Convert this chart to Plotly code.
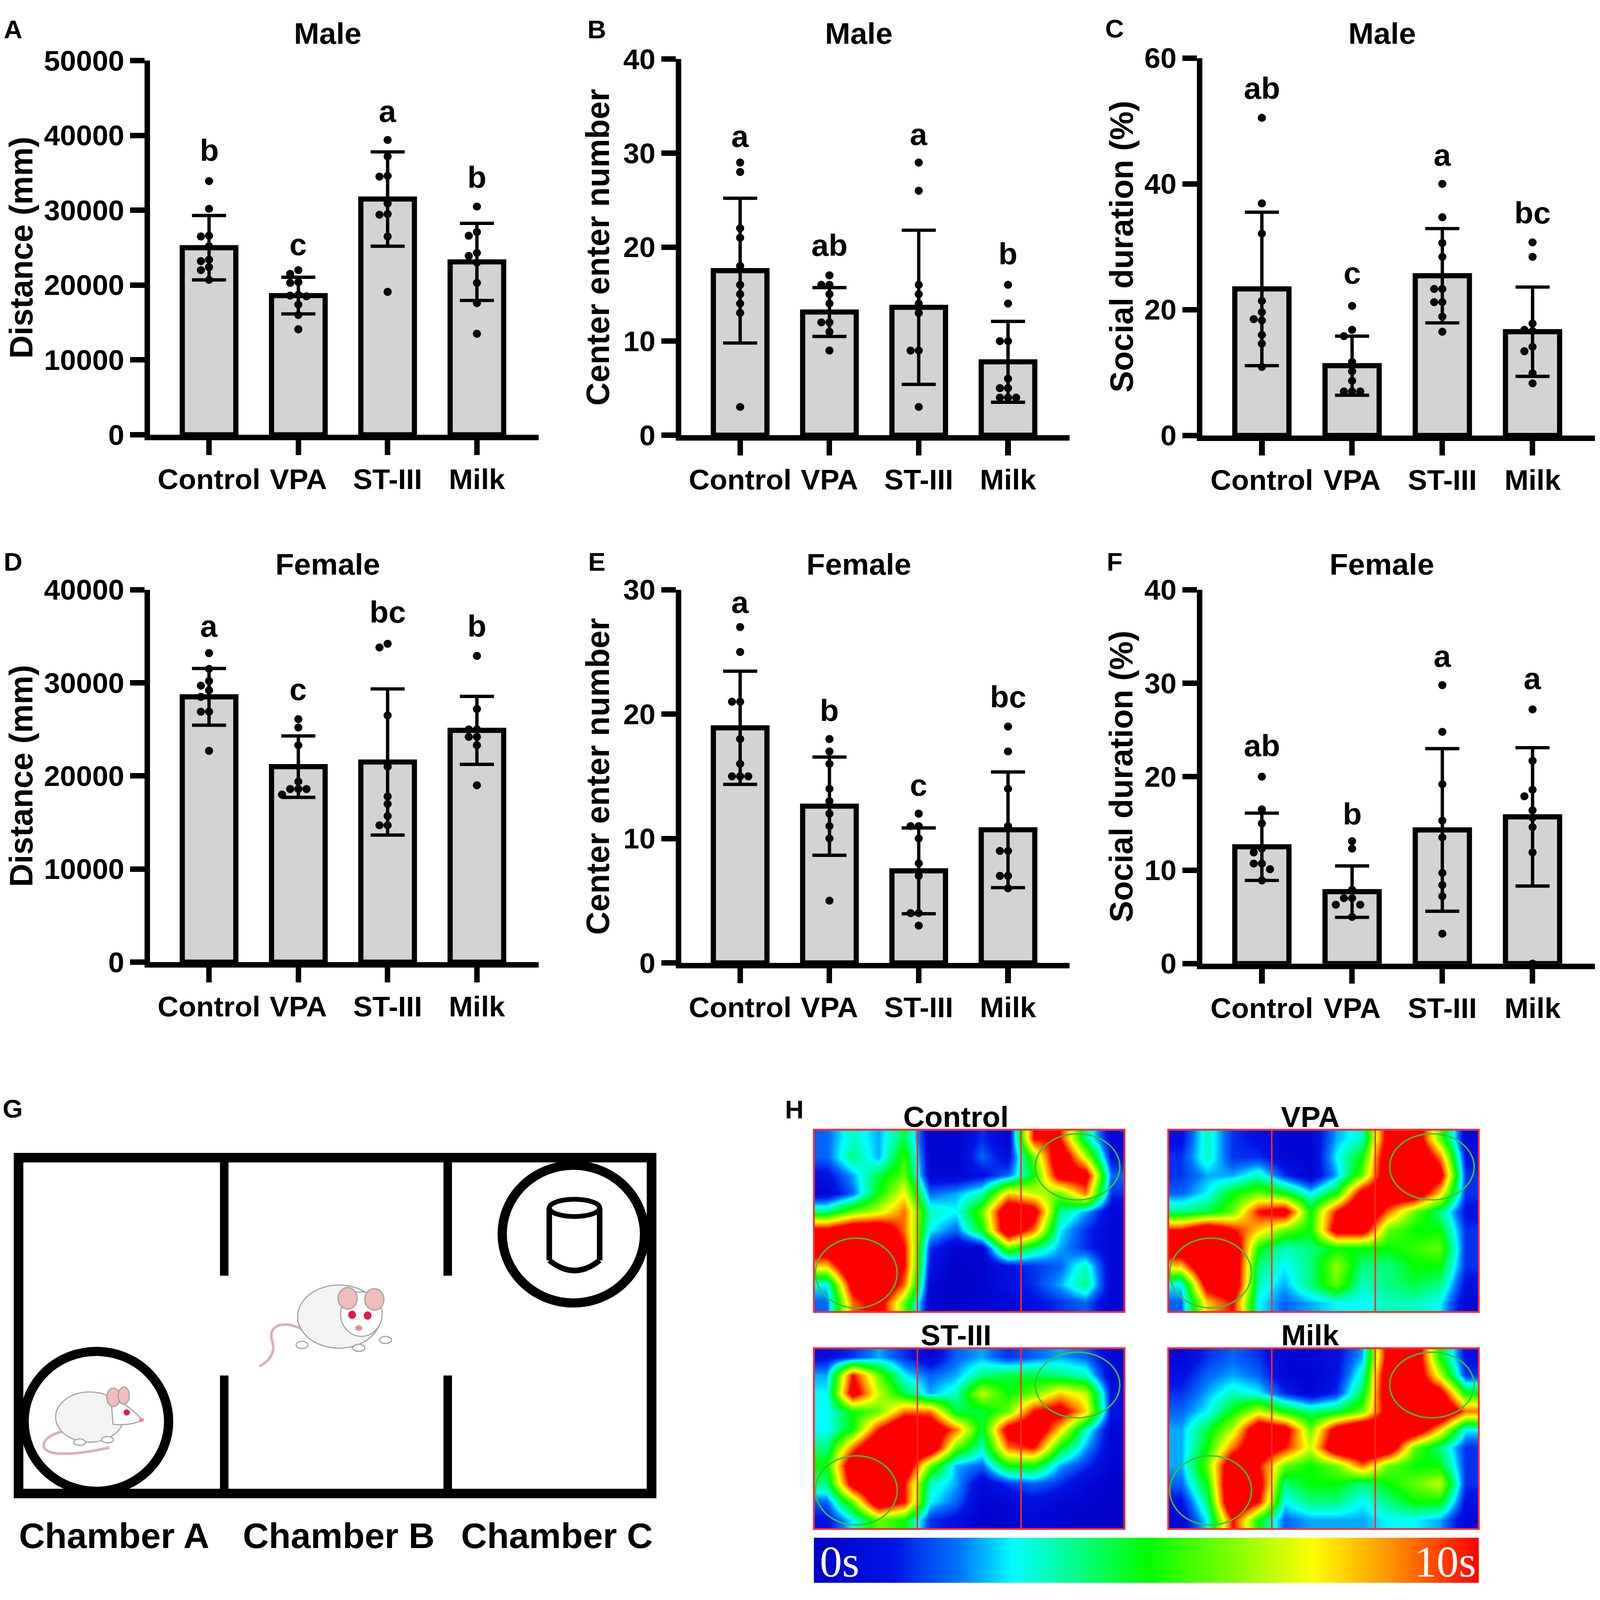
import plotly.graph_objects as go

W, H = 4317, 4370

# ---------------- data ----------------
groups = ["Control", "VPA", "ST-III", "Milk"]

# A  Male - distance (mm)
dist_m_mean = [25000, 18600, 31500, 23100]
dist_m_sd = [4300, 2450, 6300, 5150]
dist_m_dots = [
    [33900, 30200, 26600, 26500, 25200, 23400, 23200, 22400, 22000, 20700],
    [22000, 21500, 20400, 20300, 18700, 18600, 18500, 17400, 16000, 14100],
    [39400, 37200, 34600, 34500, 30900, 29500, 29400, 26500, 19100],
    [30500, 27100, 26600, 24300, 23900, 23000, 20300, 17600, 13500],
]
dist_m_letters = ["b", "c", "a", "b"]
dist_m_letter_y = [38000, 25400, 43200, 34400]

# B  Male - center enter number
enter_m_mean = [17.5, 13.1, 13.6, 7.8]
enter_m_sd = [7.7, 2.6, 8.2, 4.3]
enter_m_dots = [
    [29, 28, 22, 21, 18, 16, 15, 14, 13, 3],
    [17, 16, 16, 15, 14, 12, 12, 11, 9],
    [29, 26, 16, 15, 14, 13, 9, 9, 3],
    [16, 14, 10, 10, 6, 5, 5, 4, 4, 4],
]
enter_m_letters = ["a", "ab", "a", "b"]
enter_m_letter_y = [31.8, 20.2, 32.0, 19.3]

# C  Male - social duration (%)
social_m_mean = [23.3, 11.1, 25.4, 16.5]
social_m_sd = [12.2, 4.7, 7.5, 7.1]
social_m_dots = [
    [50.5, 36.9, 32.1, 21.4, 19.6, 18.5, 18.3, 16.0, 14.6, 10.9],
    [20.6, 16.8, 15.8, 11.7, 10.2, 8.7, 7.0, 7.0, 7.0],
    [40.0, 34.7, 30.6, 28.4, 23.3, 23.3, 21.2, 21.2, 18.9, 16.5],
    [30.7, 28.4, 17.8, 16.8, 16.6, 14.1, 13.4, 9.9, 8.3],
]
social_m_letters = ["ab", "c", "a", "bc"]
social_m_letter_y = [55.2, 25.8, 44.6, 35.4]

# D  Female - distance (mm)
dist_f_mean = [28500, 21000, 21500, 24900]
dist_f_sd = [3050, 3300, 7850, 3650]
dist_f_dots = [
    [33200, 31500, 30200, 29700, 29200, 28500, 26900, 26900, 22700],
    [26100, 25200, 23300, 19400, 18600, 18600, 18600, 18000],
    [34200, 33800, 26500, 21000, 17800, 17000, 15700, 14700, 14700],
    [32900, 27200, 25000, 25000, 24200, 24200, 23300, 19000],
]
dist_f_letters = ["a", "c", "bc", "b"]
dist_f_letter_y = [36100, 29300, 37600, 36100]

# E  Female - center enter number
enter_f_mean = [18.9, 12.6, 7.4, 10.7]
enter_f_sd = [4.55, 3.95, 3.45, 4.65]
enter_f_dots = [
    [27, 25, 21, 21, 18, 16, 15, 15, 15],
    [18, 17, 16, 14, 13, 12, 11, 10, 5],
    [12, 11, 11, 10, 8, 7, 4, 4, 3],
    [19, 17, 14, 11, 9, 9, 7, 7, 6],
]
enter_f_letters = ["a", "b", "c", "bc"]
enter_f_letter_y = [29.0, 20.3, 14.3, 21.4]

# F  Female - social duration (%)
social_f_mean = [12.5, 7.7, 14.3, 15.7]
social_f_sd = [3.6, 2.75, 8.7, 7.4]
social_f_dots = [
    [20.0, 16.5, 15.0, 12.3, 11.9, 10.7, 10.7, 10.1, 8.9],
    [13.1, 12.3, 7.9, 7.0, 7.0, 6.3, 6.3, 5.0],
    [29.8, 24.8, 19.2, 15.3, 13.5, 9.7, 8.4, 7.2, 3.2],
    [27.2, 21.7, 18.6, 17.9, 16.4, 15.6, 14.6, 11.9, 0.0],
]
social_f_letters = ["ab", "b", "a", "a"]
social_f_letter_y = [23.3, 16.0, 32.9, 30.5]

# H  heat maps, time spent (s), coarse grid (10 rows x 12 cols)
heat_control = [
    [2.0, 3.5, 2.5, 4.5, 0.3, 0.3, 1.5, 0.3, 10, 10, 4.0, 0.5],
    [2.0, 4.0, 2.5, 5.5, 0.3, 0.3, 2.0, 0.8, 6.0, 12, 7.0, 1.0],
    [1.0, 2.5, 4.5, 6.0, 0.5, 0.5, 1.0, 2.0, 5.0, 11, 11, 2.0],
    [0.5, 2.0, 5.0, 7.5, 2.0, 2.5, 3.5, 8.0, 7.0, 6.0, 9.0, 1.5],
    [4.0, 6.0, 7.0, 9.0, 3.5, 3.0, 6.0, 12, 11, 4.0, 2.5, 0.5],
    [10.5, 12, 12, 9.0, 3.0, 2.0, 5.0, 12, 9.0, 3.0, 1.5, 0.5],
    [12, 13, 13, 10, 1.5, 0.3, 0.5, 6.0, 4.0, 2.5, 1.5, 0.5],
    [8.0, 13, 13, 10, 1.0, 0.0, 0.3, 1.0, 1.5, 2.0, 3.5, 0.5],
    [3.0, 11, 13, 9.0, 0.5, 0.0, 0.3, 1.0, 1.5, 2.5, 4.0, 0.5],
    [2.0, 9.0, 11, 6.0, 0.3, 0.0, 0.3, 0.5, 1.0, 1.5, 2.0, 0.3],
]
heat_vpa = [
    [1.0, 3.5, 1.5, 1.0, 0.5, 0.5, 2.5, 3.5, 11, 12, 6.0, 0.5],
    [1.5, 3.5, 1.5, 1.5, 0.5, 0.3, 3.0, 5.0, 12, 13, 9.0, 1.0],
    [1.5, 2.5, 2.5, 3.5, 1.5, 0.3, 2.5, 6.0, 12, 13, 11, 1.5],
    [2.0, 3.0, 5.0, 6.0, 5.0, 3.0, 5.0, 11, 12, 12, 8.0, 1.5],
    [4.0, 4.5, 6.0, 10, 11, 5.0, 10, 13, 9.0, 6.0, 4.0, 1.0],
    [10, 12, 10, 8.0, 6.0, 5.0, 11, 11, 6.0, 5.0, 5.0, 1.5],
    [12, 13, 12, 5.0, 3.5, 4.0, 5.0, 5.0, 5.0, 5.5, 6.0, 1.5],
    [8.0, 13, 12, 4.0, 3.0, 4.0, 6.5, 4.0, 4.0, 5.0, 5.0, 1.5],
    [3.0, 11, 12, 3.5, 2.5, 4.0, 6.0, 3.5, 4.0, 4.5, 4.0, 1.0],
    [2.0, 8.0, 10, 3.0, 2.0, 2.5, 3.0, 3.0, 3.5, 3.5, 3.0, 0.5],
]
heat_st3 = [
    [1.0, 1.5, 2.5, 1.5, 0.5, 2.0, 2.5, 1.5, 2.0, 2.5, 2.0, 0.5],
    [2.5, 10, 6.0, 3.0, 2.0, 2.5, 4.0, 4.5, 4.5, 4.0, 3.5, 0.5],
    [3.0, 11, 7.0, 4.5, 2.5, 3.5, 7.0, 5.0, 6.0, 8.0, 7.0, 1.0],
    [3.0, 5.0, 6.0, 9.0, 9.0, 4.5, 4.5, 6.0, 10, 11, 8.0, 1.0],
    [3.0, 5.0, 10, 13, 12, 9.0, 4.5, 11, 12, 8.0, 3.5, 0.5],
    [4.0, 9.0, 13, 13, 12, 6.0, 3.5, 9.0, 10, 5.0, 2.5, 0.5],
    [5.0, 12, 12, 12, 6.0, 2.5, 2.0, 5.0, 5.0, 2.5, 1.5, 0.3],
    [4.0, 11, 13, 10, 3.5, 2.5, 0.5, 1.5, 2.0, 1.5, 0.5, 0.0],
    [2.0, 6.0, 12, 10, 3.0, 2.0, 0.3, 0.5, 1.0, 0.5, 0.3, 0.0],
    [1.0, 3.0, 6.0, 5.0, 1.5, 1.0, 0.0, 0.3, 0.5, 0.3, 0.0, 0.0],
]
heat_milk = [
    [0.5, 1.5, 2.0, 1.5, 0.5, 0.5, 1.0, 2.5, 11, 12, 5.0, 1.0],
    [1.0, 2.0, 2.5, 2.0, 0.5, 0.3, 1.0, 3.5, 12, 12, 7.0, 1.5],
    [1.5, 2.5, 3.5, 3.0, 1.5, 0.5, 1.5, 4.5, 12, 12, 11, 5.0],
    [2.0, 3.0, 5.0, 7.0, 5.0, 4.0, 4.5, 6.0, 11, 13, 13, 9.0],
    [2.5, 4.5, 7.0, 12, 11, 6.0, 11, 13, 12, 12, 8.0, 3.0],
    [2.5, 5.0, 9.0, 12, 10, 7.0, 12, 13, 12, 6.0, 4.0, 1.5],
    [2.5, 6.0, 12, 10, 6.0, 5.0, 6.0, 9.0, 6.0, 5.0, 5.0, 1.5],
    [2.0, 5.0, 13, 11, 4.0, 5.0, 5.0, 4.0, 5.0, 6.0, 7.0, 1.5],
    [1.0, 4.0, 13, 10, 3.0, 4.0, 4.0, 3.0, 4.0, 5.0, 5.0, 1.0],
    [0.5, 3.0, 10, 5.0, 2.0, 2.5, 2.5, 2.5, 3.0, 3.0, 2.5, 0.5],
]
heat_names = ["Control", "VPA", "ST-III", "Milk"]

# ---------------- helpers ----------------
FONT = "Liberation Sans, Arial, Helvetica, sans-serif"


def fx(px):
    return px / W


def fy(py):
    return 1 - py / H


def swarm_offsets(vals, ymax, axis_px, dot_px):
    # simple beeswarm: push overlapping dots sideways
    order = sorted(range(len(vals)), key=lambda k: -vals[k])
    placed, offs = [], [0] * len(vals)
    for k in order:
        ypx = vals[k] / ymax * axis_px
        for c in (0, -1, 1, -2, 2, -3, 3):
            if all((c - pc) ** 2 * dot_px ** 2 + (ypx - py) ** 2 >= (0.9 * dot_px) ** 2
                   for pc, py in placed):
                break
        placed.append((c, ypx))
        offs[k] = c
    return offs


def bold(size, color="black", family=FONT):
    return dict(family=family, size=size, color=color, weight="bold")


fig = go.Figure()
annotations = []
shapes = []

# pixel layout of the six bar panels: y-axis x, x-axis end, top tick, zero line
panels = [
    dict(mean=dist_m_mean, sd=dist_m_sd, dots=dist_m_dots, let=dist_m_letters, let_y=dist_m_letter_y,
         ymax=50000, dtick=10000, ytitle="Distance (mm)", title="Male", tag="A",
         x0=405, x1=1453, top=124, zero=1167, ttl_y=48, tag_y=38, tx=57, lx=35),
    dict(mean=enter_m_mean, sd=enter_m_sd, dots=enter_m_dots, let=enter_m_letters, let_y=enter_m_letter_y,
         ymax=40, dtick=10, ytitle="Center enter number", title="Male", tag="B",
         x0=1838, x1=2886, top=120, zero=1168, ttl_y=48, tag_y=38, tx=1612, lx=1611),
    dict(mean=social_m_mean, sd=social_m_sd, dots=social_m_dots, let=social_m_letters, let_y=social_m_letter_y,
         ymax=60, dtick=20, ytitle="Social duration (%)", title="Male", tag="C",
         x0=3244, x1=4303, top=117, zero=1169, ttl_y=48, tag_y=35, tx=3025, lx=3007),
    dict(mean=dist_f_mean, sd=dist_f_sd, dots=dist_f_dots, let=dist_f_letters, let_y=dist_f_letter_y,
         ymax=40000, dtick=10000, ytitle="Distance (mm)", title="Female", tag="D",
         x0=405, x1=1453, top=1599, zero=2637, ttl_y=1527, tag_y=1522, tx=57, lx=35),
    dict(mean=enter_f_mean, sd=enter_f_sd, dots=enter_f_dots, let=enter_f_letters, let_y=enter_f_letter_y,
         ymax=30, dtick=10, ytitle="Center enter number", title="Female", tag="E",
         x0=1838, x1=2886, top=1599, zero=2639, ttl_y=1527, tag_y=1522, tx=1612, lx=1611),
    dict(mean=social_f_mean, sd=social_f_sd, dots=social_f_dots, let=social_f_letters, let_y=social_f_letter_y,
         ymax=40, dtick=10, ytitle="Social duration (%)", title="Female", tag="F",
         x0=3244, x1=4303, top=1599, zero=2641, ttl_y=1527, tag_y=1522, tx=3025, lx=3007),
]

XR = [-0.66, 3.69]
layout_axes = {}
for i, p in enumerate(panels, start=1):
    xa = "x" if i == 1 else f"x{i}"
    ya = "y" if i == 1 else f"y{i}"
    spacing_px = (p["x1"] - p["x0"]) / (XR[1] - XR[0])
    axis_px = p["zero"] - p["top"]

    fig.add_trace(go.Bar(
        x=list(range(4)), y=p["mean"], xaxis=xa, yaxis=ya, width=0.6,
        marker=dict(color="#d3d3d3", line=dict(color="black", width=14)),
        error_y=dict(type="data", array=p["sd"], visible=True, thickness=9, width=46, color="black"),
        showlegend=False, hoverinfo="skip",
    ))

    xs, ys = [], []
    for g, vals in enumerate(p["dots"]):
        offs = swarm_offsets(vals, p["ymax"], axis_px, 22)
        for v, o in zip(vals, offs):
            xs.append(g + o * 22 / spacing_px)
            ys.append(v)
    fig.add_trace(go.Scatter(
        x=xs, y=ys, xaxis=xa, yaxis=ya, mode="markers", cliponaxis=False,
        marker=dict(size=22, color="black"), showlegend=False, hoverinfo="skip",
    ))

    axis_style = dict(showline=True, linewidth=15, linecolor="black", ticks="outside",
                      tickwidth=15, tickcolor="black", showgrid=False, zeroline=False,
                      fixedrange=True)
    layout_axes["xaxis" if i == 1 else f"xaxis{i}"] = dict(
        domain=[fx(p["x0"]), fx(p["x1"])], range=XR, anchor=ya,
        tickvals=list(range(4)), ticktext=groups, tickangle=0, ticklen=40,
        tickfont=bold(78), **axis_style)
    layout_axes["yaxis" if i == 1 else f"yaxis{i}"] = dict(
        domain=[fy(p["zero"]), fy(p["top"])], range=[0, p["ymax"]], anchor=xa,
        tick0=0, dtick=p["dtick"], tickformat="d", ticklen=39,
        tickfont=bold(78), **axis_style)

    for g in range(4):
        annotations.append(dict(x=g, y=p["let_y"][g], xref=xa, yref=ya, text=p["let"][g],
                                showarrow=False, font=bold(84), xanchor="center", yanchor="middle"))
    annotations.append(dict(x=fx((p["x0"] + p["x1"]) / 2 - 45), y=fy(p["ttl_y"]), xref="paper", yref="paper",
                            text=p["title"], showarrow=False, font=bold(82), xanchor="center", yanchor="middle"))
    annotations.append(dict(x=fx(p["lx"]), y=fy(p["tag_y"]), xref="paper", yref="paper",
                            text=p["tag"], showarrow=False, font=bold(70), xanchor="center", yanchor="middle"))
    annotations.append(dict(x=fx(p["tx"]), y=fy((p["top"] + p["zero"]) / 2), xref="paper", yref="paper",
                            text=p["ytitle"], textangle=-90, showarrow=False, font=bold(88),
                            xanchor="center", yanchor="middle"))

# ---------------- H: heat maps ----------------
jet = [[0.0, "#0000c8"], [0.12, "#0014e6"], [0.22, "#0078ff"], [0.3, "#00ffff"],
       [0.5, "#00ff00"], [0.63, "#80ff00"], [0.75, "#ffff00"], [0.87, "#ff9000"], [1.0, "#ff0000"]]

heat_boxes = [(2196, 3034, 3104, 3612), (3152, 3990, 3104, 3612),
              (2196, 3034, 3713, 4217), (3152, 3990, 3713, 4217)]
heat_data = [heat_control, heat_vpa, heat_st3, heat_milk]

for k, (z, (hx0, hx1, hy0, hy1), name) in enumerate(zip(heat_data, heat_boxes, heat_names)):
    n = 7 + k
    xa, ya = f"x{n}", f"y{n}"
    trace = go.Heatmap(z=z, xaxis=xa, yaxis=ya, colorscale=jet, zmin=0, zmax=10,
                       zsmooth="best", hoverinfo="skip", showscale=(k == 0))
    if k == 0:
        trace.colorbar = dict(orientation="h", x=fx(3093), xanchor="center", y=fy(4367),
                              yanchor="bottom", len=1794, lenmode="pixels", thickness=123,
                              thicknessmode="pixels", outlinewidth=0, showticklabels=False,
                              ticks="", xpad=0, ypad=0)
    fig.add_trace(trace)
    layout_axes[f"xaxis{n}"] = dict(domain=[fx(hx0), fx(hx1)], range=[-0.5, 11.5], visible=False,
                                    anchor=ya, fixedrange=True)
    layout_axes[f"yaxis{n}"] = dict(domain=[fy(hy1), fy(hy0)], range=[9.5, -0.5], visible=False,
                                    anchor=xa, fixedrange=True)
    dx, dy = f"{xa} domain", f"{ya} domain"
    shapes.append(dict(type="rect", xref=dx, yref=dy, x0=0, x1=1, y0=0, y1=1,
                       line=dict(color="#ff2a2a", width=5)))
    for t in (1 / 3, 2 / 3):
        shapes.append(dict(type="line", xref=dx, yref=dy, x0=t, x1=t, y0=0, y1=1,
                           line=dict(color="#ff2a2a", width=4)))
    shapes.append(dict(type="circle", xref=dx, yref=dy, x0=0.005, x1=0.268, y0=0.022, y1=0.405,
                       line=dict(color="#3fbf3f", width=4)))
    shapes.append(dict(type="circle", xref=dx, yref=dy, x0=0.713, x1=0.985, y0=0.615, y1=0.978,
                       line=dict(color="#3fbf3f", width=4)))
    annotations.append(dict(x=fx((hx0 + hx1) / 2 - 36), y=fy(hy0 - 36), xref="paper", yref="paper",
                            text=name, showarrow=False, font=bold(80), xanchor="center",
                            yanchor="middle"))

SERIF = "Liberation Serif, Times New Roman, serif"
annotations.append(dict(x=fx(2210), y=fy(4308), xref="paper", yref="paper", text="0s", showarrow=False,
                        font=dict(family=SERIF, size=120, color="white"), xanchor="left", yanchor="middle"))
annotations.append(dict(x=fx(3985), y=fy(4308), xref="paper", yref="paper", text="10s", showarrow=False,
                        font=dict(family=SERIF, size=120, color="white"), xanchor="right", yanchor="middle"))
annotations.append(dict(x=fx(2143), y=fy(3048), xref="paper", yref="paper", text="H", showarrow=False,
                        font=bold(70), xanchor="center", yanchor="middle"))

# ---------------- G: three-chamber schematic ----------------
annotations.append(dict(x=fx(34), y=fy(3045), xref="paper", yref="paper", text="G", showarrow=False,
                        font=bold(70), xanchor="center", yanchor="middle"))
for label, cx in (("Chamber A", 308), ("Chamber B", 913), ("Chamber C", 1502)):
    annotations.append(dict(x=fx(cx), y=fy(4236), xref="paper", yref="paper", text=label,
                            showarrow=False, font=bold(97), xanchor="center", yanchor="middle"))


def pshape(tokens, color, width, fill=None):
    parts = []
    for t in tokens:
        if isinstance(t, str):
            parts.append(t)
        else:
            parts.append(f"{fx(t[0]):.5f},{fy(t[1]):.5f}")
    d = dict(type="path", xref="paper", yref="paper", path=" ".join(parts),
             line=dict(color=color, width=width))
    if fill:
        d["fillcolor"] = fill
    return d


def ell(cx, cy, rx, ry, line="black", width=3, fill=None):
    d = dict(type="circle", xref="paper", yref="paper",
             x0=fx(cx - rx), x1=fx(cx + rx), y0=fy(cy + ry), y1=fy(cy - ry),
             line=dict(color=line, width=width))
    if fill:
        d["fillcolor"] = fill
    return d


def seg(x0, y0, x1, y1, width):
    return dict(type="line", xref="paper", yref="paper", x0=fx(x0), x1=fx(x1), y0=fy(y0), y1=fy(y1),
                line=dict(color="black", width=width))


shapes.append(dict(type="rect", xref="paper", yref="paper", x0=fx(50), x1=fx(1758), y0=fy(4118),
                   y1=fy(3182), line=dict(color="black", width=26)))
for wx in (605, 1208):
    shapes.append(seg(wx, 3182, wx, 3511, 23))
    shapes.append(seg(wx, 3789, wx, 4118, 23))
shapes.append(ell(260, 3917, 195, 195, width=25))
shapes.append(ell(1547, 3395, 192, 192, width=25))
# cup
shapes.append(seg(1482, 3322, 1482, 3468, 15))
shapes.append(seg(1618, 3322, 1618, 3468, 15))
shapes.append(pshape(["M", (1482, 3468), "Q", (1550, 3525), (1618, 3468)], "black", 15))
shapes.append(ell(1550, 3322, 68, 24, width=13))

# mouse in chamber B (front view)
pink, grey, skin = "#efbcbc", "#a0a0a0", "#f3f3f3"
shapes.append(pshape(["M", (815, 3660), "C", (760, 3632), (722, 3652), (734, 3692),
                      "C", (746, 3728), (722, 3752), (700, 3764)], "#dcb0b0", 7))
shapes.append(ell(915, 3625, 112, 88, line=grey, width=3, fill=skin))
shapes.append(ell(975, 3618, 56, 62, line=grey, width=3, fill="white"))
shapes.append(ell(938, 3574, 26, 30, line=grey, width=3, fill=pink))
shapes.append(ell(1010, 3577, 26, 30, line=grey, width=3, fill=pink))
shapes.append(ell(950, 3620, 10, 11, line="#c0103a", width=1, fill="#e8174a"))
shapes.append(ell(992, 3622, 10, 11, line="#c0103a", width=1, fill="#e8174a"))
shapes.append(ell(968, 3657, 9, 7, line="#e07070", width=1, fill="#f08a8a"))
for fxp, fyp in ((815, 3704), (968, 3712), (1040, 3690)):
    shapes.append(ell(fxp, fyp, 16, 10, line=grey, width=3, fill="white"))

# mouse in chamber A (side view)
shapes.append(pshape(["M", (170, 3945), "C", (110, 3958), (100, 4000), (150, 4006),
                      "C", (200, 4010), (250, 4000), (295, 3990)], "#dcb0b0", 7))
shapes.append(ell(242, 3905, 92, 70, line=grey, width=3, fill=skin))
shapes.append(pshape(["M", (300, 3860), "Q", (340, 3860), (384, 3914), "Q", (350, 3930), (305, 3925), "Z"],
                     grey, 3, fill="white"))
shapes.append(ell(306, 3850, 18, 26, line=grey, width=3, fill=pink))
shapes.append(ell(334, 3845, 15, 24, line=grey, width=3, fill=pink))
shapes.append(ell(342, 3892, 8, 8, line="#c0103a", width=1, fill="#e8174a"))
shapes.append(ell(382, 3913, 6, 5, line="#e07070", width=1, fill="#f08a8a"))
for fxp, fyp in ((215, 3975), (290, 3968)):
    shapes.append(ell(fxp, fyp, 16, 9, line=grey, width=3, fill="white"))

fig.update_layout(
    width=W, height=H, margin=dict(l=0, r=0, t=0, b=0),
    paper_bgcolor="white", plot_bgcolor="rgba(0,0,0,0)",
    showlegend=False, annotations=annotations, shapes=shapes,
    font=dict(family=FONT, color="black"),
    **layout_axes,
)

# pin the figure to the viewport corner and stretch it to fill the viewport
fit_js = """
var gd = document.getElementById('{plot_id}');
document.documentElement.style.margin = '0';
document.body.style.margin = '0';
document.body.style.overflow = 'hidden';
gd.style.position = 'fixed';
gd.style.left = '0px';
gd.style.top = '0px';
function fitFigure() {
    var sx = window.innerWidth / %d, sy = window.innerHeight / %d;
    gd.style.transformOrigin = '0 0';
    gd.style.transform = 'scale(' + sx + ',' + sy + ')';
}
fitFigure();
window.addEventListener('resize', fitFigure);
""" % (W, H)

fig.write_html("out.html", post_script=fit_js, config=dict(displayModeBar=False))
